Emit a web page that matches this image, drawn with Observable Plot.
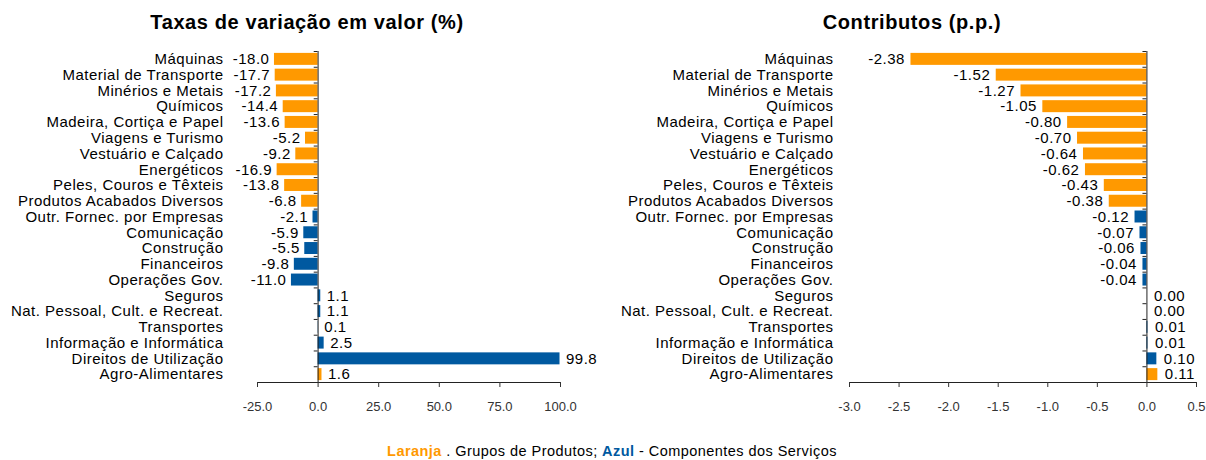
<!DOCTYPE html>
<html><head><meta charset="utf-8">
<script src="https://cdn.jsdelivr.net/npm/d3@7"></script>
<script src="https://cdn.jsdelivr.net/npm/@observablehq/plot@0.6"></script>
<style>
body{margin:0;background:#fff;font-family:"Liberation Sans",Arial,sans-serif;}
#wrap{position:relative;width:1206px;height:460px;overflow:hidden;background:#fff}
.title{position:absolute;top:10px;line-height:24px;font-weight:bold;font-size:20px;letter-spacing:0.6px;text-align:center;white-space:nowrap;color:#000}
.chart{position:absolute;top:0}
.chart svg text{letter-spacing:0.5px}
.chart g[aria-label="x-axis tick label"] text{letter-spacing:0}
#legend{position:absolute;top:442px;left:9px;width:1206px;line-height:18px;text-align:center;font-size:14.5px;letter-spacing:0.45px;color:#000;white-space:nowrap}
</style></head><body>
<div id="wrap">
  <div class="title" style="left:107px;width:400px">Taxas de variação em valor (%)</div>
  <div class="title" style="left:712px;width:400px">Contributos (p.p.)</div>
  <div class="chart" id="c1" style="left:0"></div>
  <div class="chart" id="c2" style="left:603px"></div>
  <div id="legend"><b style="color:#FF9900">Laranja</b> . Grupos de Produtos; <b style="color:#0059A0">Azul</b> - Componentes dos Serviços</div>
</div>
<script>
const categories = [
  "Máquinas", "Material de Transporte", "Minérios e Metais", "Químicos",
  "Madeira, Cortiça e Papel", "Viagens e Turismo", "Vestuário e Calçado",
  "Energéticos", "Peles, Couros e Têxteis", "Produtos Acabados Diversos",
  "Outr. Fornec. por Empresas", "Comunicação", "Construção", "Financeiros",
  "Operações Gov.", "Seguros", "Nat. Pessoal, Cult. e Recreat.", "Transportes",
  "Informação e Informática", "Direitos de Utilização", "Agro-Alimentares"
];
const grupos = [
  "Produtos","Produtos","Produtos","Produtos","Produtos","Produtos","Produtos",
  "Produtos","Produtos","Produtos",
  "Serviços","Serviços","Serviços","Serviços","Serviços","Serviços","Serviços",
  "Serviços","Serviços","Serviços",
  "Produtos"
];
const taxas = [-18.0, -17.7, -17.2, -14.4, -13.6, -5.2, -9.2, -16.9, -13.8, -6.8,
  -2.1, -5.9, -5.5, -9.8, -11.0, 1.1, 1.1, 0.1, 2.5, 99.8, 1.6];
const contributos = [-2.38, -1.52, -1.27, -1.05, -0.80, -0.70, -0.64, -0.62, -0.43, -0.38,
  -0.12, -0.07, -0.06, -0.04, -0.04, 0.00, 0.00, 0.01, 0.01, 0.10, 0.11];
const ticksTaxas = [-25, 0, 25, 50, 75, 100];
const ticksContrib = [-3.0, -2.5, -2.0, -1.5, -1.0, -0.5, 0.0, 0.5];

const ORANGE = "#FF9900", BLUE = "#0059A0", INK = "#222";

function chart({values, domain, ticks, digits, marginLeft, marginRight, tickPad, tickLen, dxNeg, dxPos}) {
  const H = 421, mt = 51, mb = 39;
  const step = (H - mt - mb) / categories.length;
  const fmt = d => (+d).toFixed(digits);
  const tfmt = d => (+d).toFixed(1);
  const data = categories.map((c, i) => ({cat: c, v: values[i], g: grupos[i]}));
  return Plot.plot({
    width: 603, height: H, marginTop: mt, marginBottom: mb, marginLeft, marginRight,
    style: {fontFamily: "'Liberation Sans', Arial, sans-serif", fontSize: "15px", color: "#000", background: "transparent", overflow: "visible"},
    x: {domain, label: null},
    y: {domain: categories, paddingInner: 0.24, paddingOuter: 0.12, round: false, label: null},
    color: {domain: ["Produtos", "Serviços"], range: [ORANGE, BLUE]},
    marks: [
      Plot.barX(data, {x: "v", y: "cat", fill: "g"}),
      Plot.ruleX([0], {stroke: INK}),
      Plot.ruleY(categories, {y: d => d, x1: -tickLen, x2: 0, dy: -step / 2, stroke: INK}),
      Plot.ruleY(categories.slice(-1), {y: d => d, x1: domain[0], x2: domain[1], dy: step / 2, stroke: INK}),
      Plot.text(data.filter(d => d.v < 0), {x: "v", y: "cat", text: d => fmt(d.v), textAnchor: "end", dx: dxNeg, fill: "#000"}),
      Plot.text(data.filter(d => d.v >= 0), {x: "v", y: "cat", text: d => fmt(d.v), textAnchor: "start", dx: dxPos, fill: "#000"}),
      Plot.axisY({tickSize: 0, tickPadding: tickPad, label: null}),
      Plot.axisX({ticks, tickFormat: tfmt, tickSize: 5, tickPadding: 14, fontSize: 13, color: "#333", label: null})
    ]
  });
}

document.getElementById("c1").append(chart({
  values: taxas, domain: [-25, 100], ticks: ticksTaxas, digits: 1,
  marginLeft: 257, marginRight: 43, tickPad: 34, tickLen: 1.6, dxNeg: -5, dxPos: 6
}));
document.getElementById("c2").append(chart({
  values: contributos, domain: [-3, 0.5], ticks: ticksContrib, digits: 2,
  marginLeft: 246, marginRight: 10, tickPad: 16, tickLen: 0.04, dxNeg: -6, dxPos: 7
}));
</script>
</body></html>
